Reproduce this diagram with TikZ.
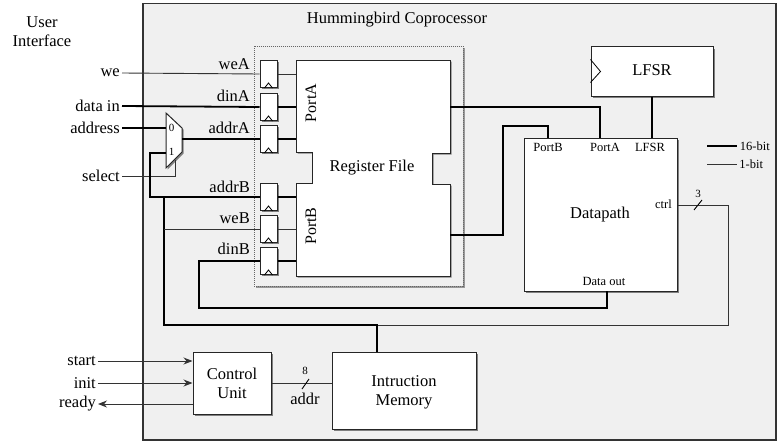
\documentclass[tikz,border=0pt]{standalone}
\usepackage{fontspec}
\setmainfont{Liberation Serif}
\usetikzlibrary{shadows,arrows.meta}
\begin{document}
\begin{tikzpicture}[x=1pt,y=-1pt,
  shad/.style={drop shadow={shadow xshift=1.6pt,shadow yshift=-1.6pt,fill=black!50,opacity=1}},
  txt/.style={font=\fontsize{16.5}{19}\selectfont, inner sep=1pt},
  sml/.style={font=\fontsize{12.5}{14}\selectfont, inner sep=1pt},
  tny/.style={font=\fontsize{11}{12}\selectfont, inner sep=0.5pt},
  blk/.style={draw=black!85, line width=1pt, fill=white, inner sep=0pt, shad},
  ffbox/.style={blk, minimum width=17pt, minimum height=27pt},
  wire/.style={line width=0.9pt, draw=black!80},
  bus/.style={line width=1.8pt, draw=black},
  arr/.style={-{Stealth[length=9pt,width=7pt]}}
]
\useasboundingbox (0,0) rectangle (778,444);

% outer coprocessor box
\node[draw=black!80, line width=1.5pt, fill=black!6, minimum width=633pt, minimum height=436pt,
      anchor=north west, inner sep=0pt] (cop) at (142,3) {};
\node[txt] (title) at (397,20) {Hummingbird Coprocessor};
\node[txt, align=center] (ui) at (42,32) {User\\Interface};

% register file group
\node[draw=black!60, dash pattern=on 1pt off 1pt, line width=0.6pt, fill=black!6,
      minimum width=209pt, minimum height=240pt, anchor=north west, inner sep=0pt,
      drop shadow={shadow xshift=2pt,shadow yshift=-2pt,fill=black!40,opacity=1}] (rfgrp) at (254,46) {};

\draw[blk] (296,60) -- (450,60) -- (450,153) -- (432,153) -- (432,184) -- (450,184) -- (450,276)
  -- (296,276) -- (296,183) -- (312,183) -- (312,152) -- (296,152) -- cycle;
\node[txt] (rf) at (372,168) {Register File};
\node[sml, rotate=90, font=\fontsize{16}{18}\selectfont] (pa) at (311,103) {PortA};
\node[sml, rotate=90, font=\fontsize{16}{18}\selectfont] (pb) at (311,226) {PortB};
\coordinate (rfAo) at (450,107);
\coordinate (rfBo) at (450,235);

% flip-flops
\foreach \n/\y in {weA/74, dinA/107, addrA/139, addrB/197, weB/229, dinB/261}{
  \node[ffbox] (ff\n) at (268.5,\y) {};
  \draw[line width=0.8pt] ([xshift=-4pt]ff\n.south) -- ([yshift=5pt]ff\n.south) -- ([xshift=4pt]ff\n.south);
  \coordinate (rf\n) at (296,\y);
}
\node[txt, anchor=east] (lweA) at (251,64) {weA};
\node[txt, anchor=east] (ldinA) at (251,96) {dinA};
\node[txt, anchor=east] (laddrA) at (251,128) {addrA};
\node[txt, anchor=east] (laddrB) at (251,187) {addrB};
\node[txt, anchor=east] (lweB) at (251,218) {weB};
\node[txt, anchor=east] (ldinB) at (251,249) {dinB};

\draw[wire] (ffweA.east) -- (rfweA);
\draw[bus] (ffdinA.east) -- (rfdinA);
\draw[bus] (ffaddrA.east) -- (rfaddrA);
\draw[bus] (ffaddrB.east) -- (rfaddrB);
\draw[wire] (ffweB.east) -- (rfweB);
\draw[bus] (ffdinB.east) -- (rfdinB);

% user inputs
\node[txt, anchor=east, inner sep=2pt] (we) at (122,73) {we};
\node[txt, anchor=east, inner sep=2pt] (din) at (122,106) {data in};
\node[txt, anchor=east, inner sep=2pt] (addr) at (122,128) {address};
\node[txt, anchor=east, inner sep=2pt] (sel) at (122,176) {select};

% mux
\draw[blk] (166,113) -- (182,128) -- (182,152) -- (166,168) -- cycle;
\coordinate (mux0) at (166,128);
\coordinate (mux1) at (166,153);
\coordinate (muxo) at (182,139);
\coordinate (muxs) at (175,160);
\node[tny] (m0) at (171.5,128) {0};
\node[tny] (m1) at (171.5,152) {1};

\draw[wire] (we.east) -- (ffweA.west);
\draw[bus] (din.east) -- (ffdinA.west);
\draw[bus] (addr.east) -- (mux0);
\draw[wire] (sel.east) -| (muxs);
\draw[bus] (muxo) -- (ffaddrA.west);
\draw[bus] (mux1) -- (150,153) |- (ffaddrB.west);

% datapath
\node[blk, minimum width=153pt, minimum height=153pt] (dp) at (600.5,214.5) {};
\node[txt] (dpl) at (600,215) {Datapath};
\node[sml] (dpb) at (548,147) {PortB};
\node[sml] (dpa) at (605,147) {PortA};
\node[sml] (dpl2) at (650,147) {LFSR};
\node[sml, anchor=east] (dpc) at (673,204) {ctrl};
\node[sml] (dpo) at (604,281) {Data out};

% LFSR
\node[blk, minimum width=122pt, minimum height=49pt] (lfsr) at (652,71.5) {};
\node[txt] (lfsrl) at (652,70) {LFSR};
\draw[line width=0.8pt] ([yshift=12pt]lfsr.west) -- ([xshift=10pt]lfsr.west) -- ([yshift=-11pt]lfsr.west);
\draw[bus] (lfsr.south) -- (lfsr.south |- dp.north);

% register file outputs
\draw[bus] (rfAo) -- (600,107) -- (600,138);
\draw[bus] (rfBo) -- (503,235) -- (503,126) -- (548,126) -- (548,138);

% data out feedback
\draw[bus] (ffdinB.west) -- (199,261) -- (199,308) -- (607,308) -- (607,291);

% instruction memory & control unit
\node[blk, minimum width=78pt, minimum height=62pt] (cu) at (232,383) {};
\node[txt, align=center] (cul) at (232,383) {Control\\Unit};
\node[blk, minimum width=144pt, minimum height=77pt] (im) at (404,390.5) {};
\node[txt, align=center] (iml) at (404,392) {Intruction\\Memory};

\coordinate (bj) at (377,325);
\draw[wire] (dp.east |- 0,205) -- (728,205) -- (728,325) -- (bj);
\draw[bus] (im.north -| bj) -- (bj) -- (164,325) -- (164,197);
\draw[wire] (164,229) -- (ffweB.west);
\draw[line width=0.9pt] (694,210) -- (702,200);
\node[tny] (three) at (698,194) {3};

% legend
\coordinate (lg1) at (707,146);
\coordinate (lg2) at (707,164);
\draw[bus] (lg1) -- ++(30,0) node[sml, anchor=west, inner sep=2pt] {16-bit};
\draw[wire] (lg2) -- ++(30,0) node[sml, anchor=west, inner sep=2pt] {1-bit};

% control signals
\node[txt, anchor=east, inner sep=2pt] (start) at (98,361) {start};
\node[txt, anchor=east, inner sep=2pt] (init) at (98,383) {init};
\node[txt, anchor=east, inner sep=2pt] (ready) at (98,404) {ready};
\draw[wire, arr] (start.east) -- (start.east -| cu.west);
\draw[wire, arr] (init.east) -- (init.east -| cu.west);
\draw[wire, arr] (ready.east -| cu.west) -- (ready.east);

\draw[wire] (cu.east) -- (cu.east -| im.west);
\draw[line width=0.9pt] (302,389) -- (309,379);
\node[tny] (eight) at (305,371) {8};
\node[txt] (addrl) at (305,399) {addr};
\end{tikzpicture}
\end{document}
